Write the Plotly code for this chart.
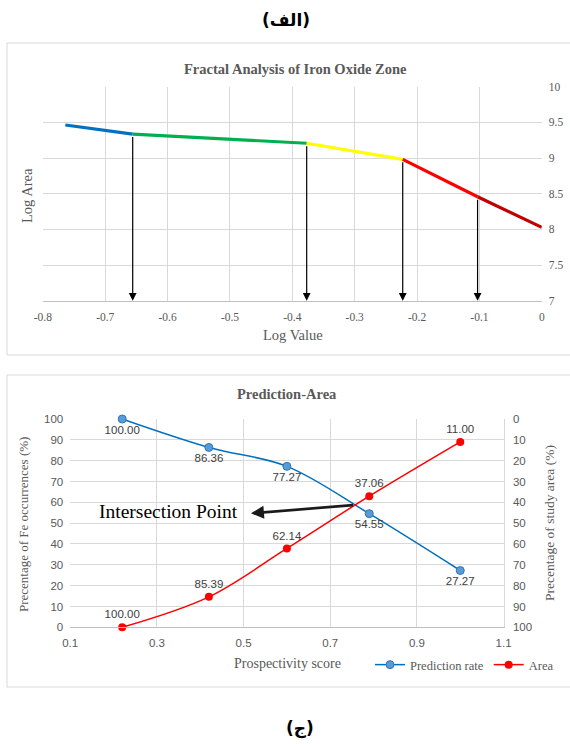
import plotly.graph_objects as go

# ---- Fractal analysis (top panel) ----
# break points of the concentration-area segments (log value, log area)
seg_x = [-0.764, -0.656, -0.377, -0.223, -0.103, 0.0]
seg_y = [9.463, 9.335, 9.207, 8.982, 8.457, 8.028]
seg_colors = ["#0070C0", "#00B050", "#FFFF00", "#FF0000", "#C00000"]
# thresholds marked by arrows (indices into the break points)
threshold_idx = [1, 2, 3, 4]
top_xticks = [-0.8, -0.7, -0.6, -0.5, -0.4, -0.3, -0.2, -0.1, 0]
top_xlabels = ["-0.8", "-0.7", "-0.6", "-0.5", "-0.4", "-0.3", "-0.2", "-0.1", "0"]
top_yticks = [7, 7.5, 8, 8.5, 9, 9.5, 10]

# ---- Prediction-area plot (bottom panel) ----
score = [0.22, 0.42, 0.60, 0.79, 1.00]
prediction_rate = [100.00, 86.36, 77.27, 54.55, 27.27]
study_area = [100.00, 85.39, 62.14, 37.06, 11.00]
bot_xticks = [0.1, 0.3, 0.5, 0.7, 0.9, 1.1]
intersection_tail = (0.756, 58.7)
intersection_head = (0.517, 54.7)

W, H = 570, 744
def px(x):
    return x / W
def py(y):
    return 1 - y / H

serif = "Liberation Serif"
sans = "Liberation Sans"
grey = "#595959"
grid = "#D9D9D9"

fig = go.Figure()

for i, c in enumerate(seg_colors):
    fig.add_trace(go.Scatter(
        x=seg_x[i:i + 2], y=seg_y[i:i + 2], mode="lines",
        line=dict(color=c, width=3.2), showlegend=False,
        xaxis="x", yaxis="y", hoverinfo="skip", cliponaxis=False))

fig.add_trace(go.Scatter(
    x=score, y=prediction_rate, mode="lines+markers+text",
    name="Prediction rate", line=dict(color="#0070C0", width=1.5, shape="spline"),
    marker=dict(size=8, color="#5B9BD5", line=dict(color="#2E75B6", width=1)),
    text=[f"{v:.2f}" for v in prediction_rate], textposition="bottom center",
    textfont=dict(family=sans, size=11.5, color="#404040"),
    xaxis="x2", yaxis="y2", cliponaxis=False))
fig.add_trace(go.Scatter(
    x=score, y=study_area, mode="lines+markers+text",
    name="Area", line=dict(color="#FF0000", width=1.5, shape="spline"),
    marker=dict(size=8, color="#FF0000"),
    text=[f"{v:.2f}" for v in study_area], textposition="top center",
    textfont=dict(family=sans, size=11.5, color="#404040"),
    xaxis="x2", yaxis="y3", cliponaxis=False))

annotations = []
for k in threshold_idx:
    annotations.append(dict(
        x=seg_x[k], y=7.0, ax=seg_x[k], ay=seg_y[k] - 0.02,
        xref="x", yref="y", axref="x", ayref="y", text="",
        showarrow=True, arrowhead=2, arrowsize=1.3, arrowwidth=1.2,
        arrowcolor="#000000"))

annotations += [
    dict(x=intersection_head[0], y=intersection_head[1],
         ax=intersection_tail[0], ay=intersection_tail[1],
         xref="x2", yref="y2", axref="x2", ayref="y2", text="",
         showarrow=True, arrowhead=2, arrowsize=1.0, arrowwidth=2.6,
         arrowcolor="#1A1A1A"),
    dict(x=intersection_head[0] - 0.025, y=55.5, xref="x2", yref="y2",
         text="Intersection Point", showarrow=False, xanchor="right",
         yanchor="middle", font=dict(family=serif, size=19.5, color="#000000")),
]

# free-standing texts placed on the page (pixel positions, centred)
page_texts = [
    (286, 20, "<b>(الف)</b>", 0, "DejaVu Sans", 17, "#000000"),
    (300, 728, "<b>(ج)</b>", 0, "DejaVu Sans", 17, "#000000"),
    (295, 69, "<b>Fractal Analysis of Iron Oxide Zone</b>", 0, serif, 14.5, grey),
    (293, 335, "Log Value", 0, serif, 14.5, grey),
    (27, 196, "Log Area", -90, serif, 14.5, grey),
    (287, 394, "<b>Prediction-Area</b>", 0, serif, 14.5, grey),
    (287, 663, "Prospectivity score", 0, serif, 14, grey),
    (23, 525, "Precentage of Fe occurrences (%)", -90, serif, 13, grey),
    (549, 523, "Precentage of study area (%)", -90, serif, 13.5, grey),
]
for x, y, t, ang, fam, sz, col in page_texts:
    annotations.append(dict(
        x=px(x), y=py(y), xref="paper", yref="paper", text=t, textangle=ang,
        xanchor="center", yanchor="middle", showarrow=False,
        font=dict(family=fam, size=sz, color=col)))

shapes = [
    dict(type="rect", xref="paper", yref="paper", x0=px(7), x1=px(572),
         y0=py(355), y1=py(43), line=dict(color="#D9D9D9", width=1)),
    dict(type="rect", xref="paper", yref="paper", x0=px(7), x1=px(572),
         y0=py(687), y1=py(375), line=dict(color="#D9D9D9", width=1)),
]

tick_serif = dict(family=serif, size=11.5, color=grey)
tick_sans = dict(family=sans, size=11.5, color=grey)

fig.update_layout(
    width=W, height=H, margin=dict(l=0, r=0, t=0, b=0, autoexpand=False),
    paper_bgcolor="white", plot_bgcolor="white",
    annotations=annotations, shapes=shapes,
    xaxis=dict(domain=[px(42.9), px(541.8)], range=[-0.8, 0], tickvals=top_xticks,
               ticktext=top_xlabels, showgrid=True, gridcolor=grid, zeroline=False,
               showline=True, linecolor="#BFBFBF", tickfont=tick_serif,
               ticks="", anchor="y", automargin=False, ticklabelstandoff=5),
    yaxis=dict(domain=[py(300.7), py(86.7)], range=[7, 10], tickvals=top_yticks,
               side="right", showgrid=True, gridcolor=grid, zeroline=False,
               tickfont=tick_serif, ticks="", anchor="x", ticklabelstandoff=6,
               automargin=False),
    xaxis2=dict(domain=[px(70.2), px(503.6)], range=[0.1, 1.1], tickvals=bot_xticks,
                showgrid=True, gridcolor=grid, zeroline=False,
                showline=True, linecolor="#BFBFBF", tickfont=tick_sans,
                ticks="", anchor="y2", automargin=False, ticklabelstandoff=5),
    yaxis2=dict(domain=[py(627.3), py(419)], range=[0, 100], dtick=10,
                showgrid=True, gridcolor=grid, zeroline=False,
                tickfont=tick_sans, ticks="", anchor="x2", ticklabelstandoff=6,
                automargin=False),
    yaxis3=dict(range=[100, 0], dtick=10, overlaying="y2", side="right",
                showgrid=False, zeroline=False, showline=True, linecolor=grid,
                tickfont=tick_sans, ticks="", anchor="x2", ticklabelstandoff=6,
                automargin=False),
    legend=dict(orientation="h", x=px(370), y=py(665), xanchor="left",
                yanchor="middle", font=dict(family=serif, size=12.5, color=grey),
                bgcolor="rgba(0,0,0,0)"),
)

fig.write_html("out.html")
